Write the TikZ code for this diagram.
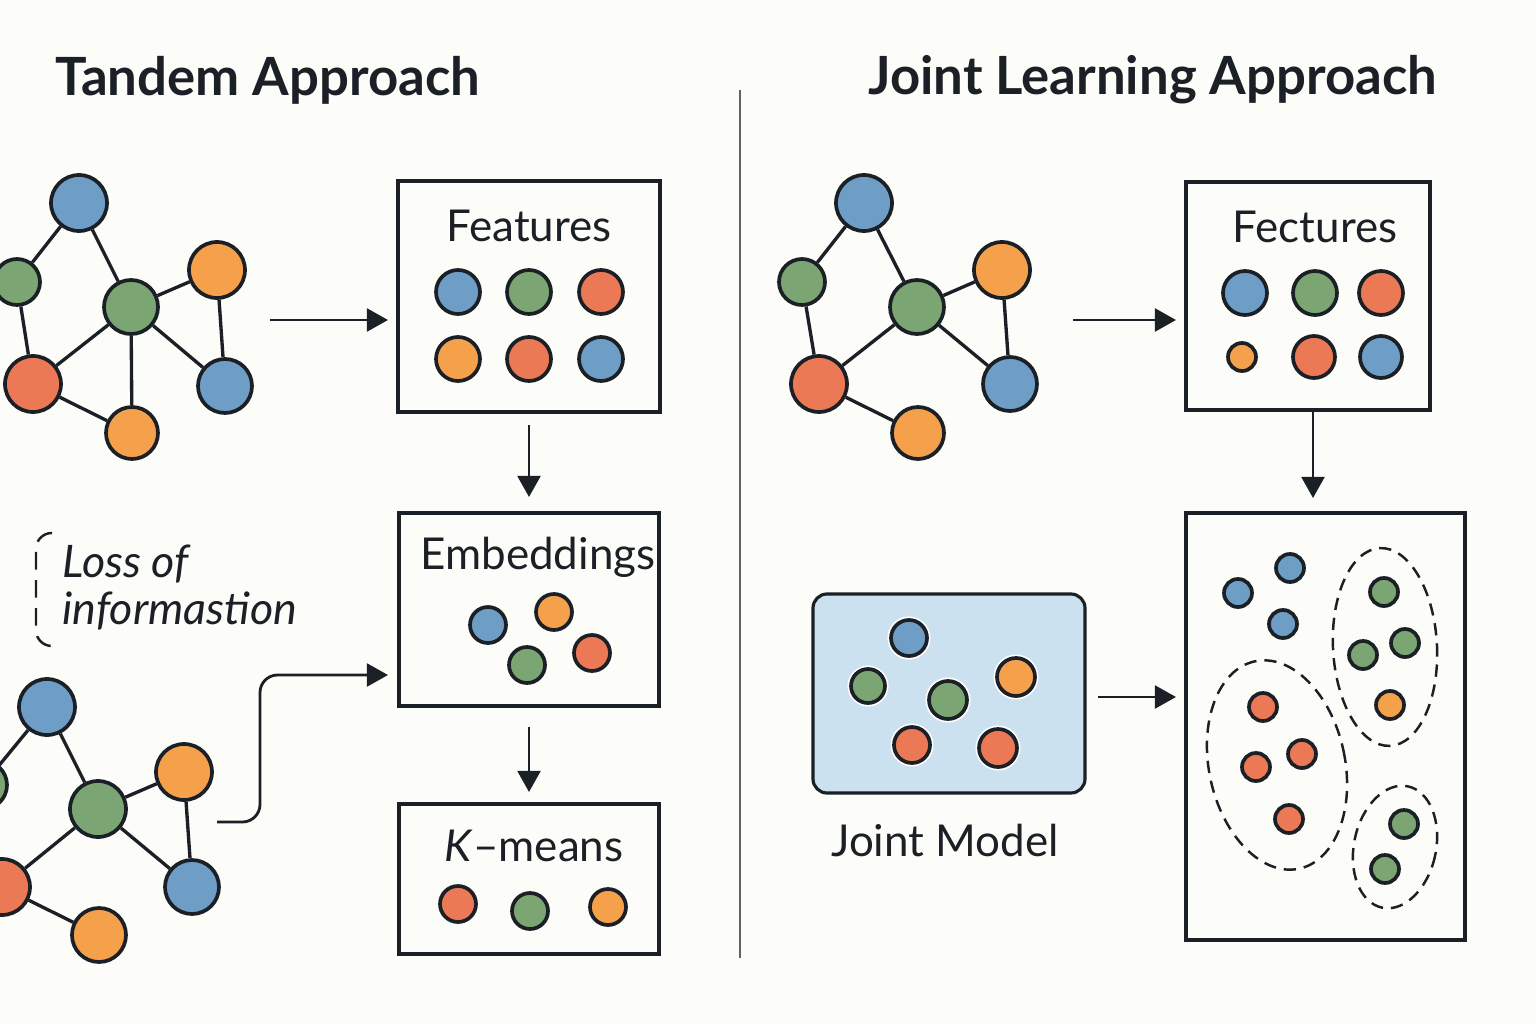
\documentclass[tikz,border=0pt]{standalone}
\usepackage{fontspec}
\setmainfont{Lato}
\usetikzlibrary{arrows.meta,calc}
\definecolor{cb}{HTML}{6E9DC6}
\definecolor{cg}{HTML}{7BA572}
\definecolor{co}{HTML}{F5A14B}
\definecolor{cr}{HTML}{EB7955}
\definecolor{ink}{HTML}{1B1F26}
\definecolor{pagebg}{HTML}{FCFCF8}
\definecolor{jbl}{HTML}{CCE1EF}
\pgfdeclarelayer{bglayer}
\pgfdeclarelayer{edgelayer}
\pgfsetlayers{bglayer,edgelayer,main}
\tikzset{
  dot/.style 2 args={circle, draw=ink, line width=2.1pt, fill=#1, minimum size={2*#2*0.02cm}, inner sep=0pt},
  halo/.style={preaction={draw=white, line width=4pt}},
  edge/.style={draw=ink, line width=1.9pt},
  box/.style={draw=ink, line width=1.8pt, fill=none, inner sep=0pt},
  arr/.style={draw=ink, line width=1.6pt, -{Triangle[length=12pt,width=13pt]}},
  lbl/.style={text=ink, inner sep=0pt, font=\fontsize{25}{30}\selectfont},
  ttl/.style={text=ink, inner sep=0pt, anchor=west, font=\fontsize{30}{36}\selectfont\bfseries},
  dsh/.style={ink, line width=1.4pt, dash pattern=on 7pt off 4.5pt},
}
\begin{document}
\begin{tikzpicture}[x=0.02cm,y=-0.02cm]
\begin{pgfonlayer}{bglayer}
\fill[pagebg] (0,0) rectangle (1536,1024);
\end{pgfonlayer}
\useasboundingbox (0,0) rectangle (1536,1024);

% titles
\node[ttl] (t1) at (55,80) {Tandem Approach};
\node[ttl] (t2) at (868,80) {Joint Learning Approach};

% divider
\coordinate (d1) at (740,90);
\coordinate (d2) at (740,958);
\draw[draw=ink!70, line width=1.1pt] (d1) -- (d2);

% ---------- top-left graph
\node[dot={cb}{28}] (a1) at (79,203) {};
\node[dot={cg}{23}] (a2) at (17,282) {};
\node[dot={cg}{27}] (a3) at (131,307) {};
\node[dot={co}{28}] (a4) at (217,270) {};
\node[dot={cr}{28}] (a5) at (33,384) {};
\node[dot={cb}{27}] (a6) at (225,386) {};
\node[dot={co}{26}] (a7) at (132,433) {};
\begin{pgfonlayer}{edgelayer}
\draw[edge] (a1)--(a2) (a1)--(a3) (a2)--(a5) (a3)--(a5) (a3)--(a7) (a3)--(a6) (a3)--(a4) (a4)--(a6) (a5)--(a7);
\end{pgfonlayer}

% ---------- bottom-left graph
\node[dot={cb}{28}] (b1) at (47,707) {};
\node[dot={cg}{24}] (b2) at (-17,785) {};
\node[dot={cg}{28}] (b3) at (98,809) {};
\node[dot={co}{28}] (b4) at (184,772) {};
\node[dot={cr}{28}] (b5) at (2,887) {};
\node[dot={cb}{27}] (b6) at (192,887) {};
\node[dot={co}{27}] (b7) at (99,935) {};
\begin{pgfonlayer}{edgelayer}
\draw[edge] (b1)--(b2) (b1)--(b3) (b2)--(b5) (b3)--(b5) (b3)--(b4) (b4)--(b6) (b3)--(b6) (b5)--(b7);
\end{pgfonlayer}

% ---------- Features box
\node[box, minimum width={262*0.02cm}, minimum height={231*0.02cm}] (feat) at (529,296.5) {};
\node[lbl] (featt) at (529,226) {Features};
\node[dot={cb}{22}] (f1) at (458,292) {};
\node[dot={cg}{22}] (f2) at (529,292) {};
\node[dot={cr}{22}] (f3) at (601,292) {};
\node[dot={co}{22}] (f4) at (458,359) {};
\node[dot={cr}{22}] (f5) at (529,359) {};
\node[dot={cb}{22}] (f6) at (601,359) {};

% ---------- Embeddings box
\node[box, minimum width={260*0.02cm}, minimum height={193*0.02cm}] (emb) at (529,609.5) {};
\node[lbl] (embt) at (538,557) {Embeddings};
\node[dot={cb}{18}] (e1) at (488,625) {};
\node[dot={co}{18}] (e2) at (554,612) {};
\node[dot={cg}{18}] (e3) at (527,665) {};
\node[dot={cr}{18}] (e4) at (592,653) {};

% ---------- K-means box
\node[box, minimum width={260*0.02cm}, minimum height={150*0.02cm}] (km) at (529,879) {};
\node[lbl] (kmt) at (534,846) {\textit{K}–means};
\node[dot={cr}{18}] (k1) at (458,904) {};
\node[dot={cg}{18}] (k2) at (530,911) {};
\node[dot={co}{18}] (k3) at (608,907) {};

% ---------- loss of information
\coordinate (lb1) at (52,533);
\coordinate (lb2) at (52,646);
\draw[ink, line width=1.4pt, dash pattern=on 10pt off 6pt, rounded corners=9pt] (lb1) -- (36,533) -- (36,646) -- (lb2);
\node[lbl, anchor=west, font=\fontsize{25.5}{30}\selectfont\itshape] (loss1) at (62,564) {Loss of};
\node[lbl, anchor=west, font=\fontsize{25.5}{30}\selectfont\itshape] (loss2) at (62,611) {informastion};

% tandem arrows
\coordinate (ta1) at (270,320);
\coordinate (te1) at (388,320);
\draw[arr] (ta1) -- (te1);
\coordinate (ta2) at (529,425);
\coordinate (te2) at (529,497);
\coordinate (ta3) at (529,727);
\coordinate (te3) at (529,792);
\draw[arr] (ta2) -- (te2);
\draw[arr] (ta3) -- (te3);
\coordinate (cs) at (217,822);
\coordinate (cm) at (260,675);
\coordinate (ce) at (388,675);
\draw[arr, rounded corners=10pt] (cs) -- (260,822) -- (cm) -- (ce);

% ---------- right graph
\node[dot={cb}{28}] (c1) at (864,203) {};
\node[dot={cg}{23}] (c2) at (802,282) {};
\node[dot={cg}{27}] (c3) at (917,307) {};
\node[dot={co}{28}] (c4) at (1002,270) {};
\node[dot={cr}{28}] (c5) at (819,384) {};
\node[dot={cb}{27}] (c6) at (1010,384) {};
\node[dot={co}{26}] (c7) at (918,433) {};
\begin{pgfonlayer}{edgelayer}
\draw[edge] (c1)--(c2) (c1)--(c3) (c2)--(c5) (c3)--(c5) (c3)--(c4) (c4)--(c6) (c3)--(c6) (c5)--(c7);
\end{pgfonlayer}

% ---------- Fectures box
\node[box, minimum width={244*0.02cm}, minimum height={228*0.02cm}] (fec) at (1308,296) {};
\node[lbl] (fect) at (1315,227) {Fectures};
\node[dot={cb}{22}] (g1) at (1245,293) {};
\node[dot={cg}{22}] (g2) at (1315,293) {};
\node[dot={cr}{22}] (g3) at (1381,293) {};
\node[dot={co}{14}] (g4) at (1242,357) {};
\node[dot={cr}{21}] (g5) at (1314,357) {};
\node[dot={cb}{21}] (g6) at (1381,357) {};

\coordinate (ra1) at (1073,320);
\coordinate (re1) at (1176,320);
\draw[arr] (ra1) -- (re1);
\coordinate (ra2) at (1313,412);
\coordinate (re2) at (1313,498);
\draw[arr] (ra2) -- (re2);

% ---------- Joint model
\node[draw=ink, line width=1.8pt, fill=jbl, rounded corners=8pt, minimum width={272*0.02cm}, minimum height={199*0.02cm}, inner sep=0pt] (jm) at (949,693.5) {};
\node[dot={cb}{18}, halo] (j1) at (909,638) {};
\node[dot={cg}{17}, halo] (j2) at (868,686) {};
\node[dot={cg}{19}, halo] (j3) at (948,700) {};
\node[dot={co}{19}, halo] (j4) at (1016,677) {};
\node[dot={cr}{18}, halo] (j5) at (912,745) {};
\node[dot={cr}{19}, halo] (j6) at (998,748) {};
\node[lbl] (jmt) at (945,840) {Joint Model};
\coordinate (ra3) at (1098,697);
\coordinate (re3) at (1176,697);
\draw[arr] (ra3) -- (re3);

% ---------- cluster box
\node[box, minimum width={279*0.02cm}, minimum height={427*0.02cm}] (cl) at (1325.5,726.5) {};
\draw[dsh, rotate around={3:(1385,647)}] (1385,647) ellipse [x radius=52, y radius=99];
\draw[dsh, rotate around={12:(1277,765)}] (1277,765) ellipse [x radius=68, y radius=106];
\draw[dsh, rotate around={-12:(1395,847)}] (1395,847) ellipse [x radius=41, y radius=62];
\node[dot={cb}{14}] (h1) at (1238,593) {};
\node[dot={cb}{14}] (h2) at (1290,568) {};
\node[dot={cb}{14}] (h3) at (1283,624) {};
\node[dot={cg}{14}] (h4) at (1384,592) {};
\node[dot={cg}{14}] (h5) at (1363,655) {};
\node[dot={cg}{14}] (h6) at (1405,643) {};
\node[dot={co}{14}] (h7) at (1390,705) {};
\node[dot={cr}{14}] (h8) at (1263,707) {};
\node[dot={cr}{14}] (h9) at (1256,767) {};
\node[dot={cr}{14}] (h10) at (1302,754) {};
\node[dot={cr}{14}] (h11) at (1289,819) {};
\node[dot={cg}{14}] (h12) at (1404,824) {};
\node[dot={cg}{14}] (h13) at (1385,869) {};
\end{tikzpicture}
\end{document}
